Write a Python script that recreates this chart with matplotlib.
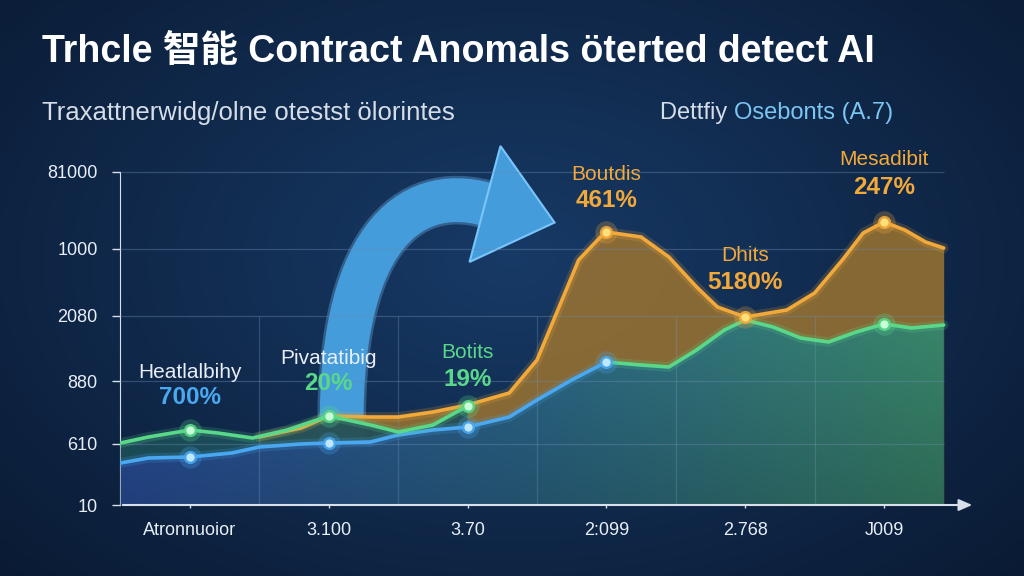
import numpy as np
import matplotlib
matplotlib.use("Agg")
import matplotlib.pyplot as plt
from matplotlib.patches import Polygon, PathPatch
from matplotlib.path import Path
from matplotlib.transforms import Affine2D

# ---------------- data ----------------
title = "Trhcle 智能 Contract Anomals öterted detect AI"
subtitle_left = "Traxattnerwidg/olne otestst ölorintes"
subtitle_right_a = "Dettfiy "
subtitle_right_b = "Osebonts (A.7)"

x_labels = ["Atronnuoior", "3.100", "3.70", "2:099", "2.768", "J009"]
y_tick_pos = [0, 61, 124, 189, 256, 333]
y_tick_labels = ["10", "610", "880", "2080", "1000", "81000"]

blue_x = [-0.5, -0.3, 0, 0.3, 0.5, 0.8, 1, 1.3, 1.5, 1.75, 2, 2.3, 2.5, 2.75, 3]
blue_y = [42, 47, 48, 52, 58, 61, 62, 63, 70, 75, 78, 88, 105, 125, 143]

green_x = [-0.5, -0.3, 0, 0.2, 0.45, 0.7, 1, 1.3, 1.5, 1.75, 2, 2.5,
           3, 3.25, 3.45, 3.65, 3.85, 4, 4.2, 4.4, 4.6, 4.8, 5, 5.2, 5.43]
green_y = [62, 68, 75, 72, 67, 75, 89, 80, 73, 80, 99, np.nan,
           143, 140, 138, 155, 175, 185, 178, 167, 163, 173, 181, 177, 180]

orange_x = [0.5, 0.8, 1, 1.3, 1.5, 1.75, 2, 2.3, 2.5, 2.65, 2.8, 2.95, 3,
            3.25, 3.45, 3.65, 3.8, 4, 4.3, 4.5, 4.7, 4.85, 5, 5.15, 5.3, 5.43]
orange_y = [68, 77, 89, 88, 88, 93, 100, 112, 145, 195, 245, 267, 273,
            268, 248, 218, 198, 188, 195, 212, 245, 272, 283, 275, 263, 257]

blue_marks = [0, 1, 2, 3]
green_marks = [0, 1, 2, 5]
orange_marks = [3, 4, 5]

ann_x = [0, 1, 2, 3, 4, 5]
ann_labels = ["Heatlalbihy", "Pivatatibig", "Botits", "Boutdis", "Dhits", "Mesadibit"]
ann_values = ["700%", "20%", "19%", "461%", "5180%", "247%"]
ann_label_y = [133, 147, 153, 330, 249, 345]
ann_value_y = [107, 121, 125, 304, 222, 317]

# ---------------- styling ----------------
BLUE = "#4aa8f0"
GREEN = "#5ad88a"
ORANGE = "#f2a93a"
TXT = "#e8eef5"
fam = ["Liberation Sans", "Noto Sans CJK SC", "DejaVu Sans"]
plt.rcParams["font.family"] = fam

W, H = 1024, 576
fig = plt.figure(figsize=(W / 100, H / 100), dpi=100)
px_tr = Affine2D().scale(1 / W, -1 / H).translate(0, 1) + fig.transFigure

# background gradient
bg = fig.add_axes([0, 0, 1, 1], zorder=-10)
yy, xx = np.mgrid[0:1:200j, 0:1:300j]
r = np.sqrt(((xx - 0.5) / 0.7) ** 2 + ((yy - 0.55) / 0.8) ** 2)
v = np.clip(1 - r, 0, 1)
c0 = np.array([0x0a, 0x1a, 0x33]) / 255
c1 = np.array([0x17, 0x3a, 0x66]) / 255
img = c0[None, None, :] + (c1 - c0)[None, None, :] * v[:, :, None]
bg.imshow(img, extent=[0, 1, 0, 1], aspect="auto", origin="lower")
bg.axis("off")

x0px, x1px = 120, 975
ypx_bottom, ypx_top = 505, 160
px_per_idx = 138.8
xlim = ((x0px - 190) / px_per_idx, (x1px - 190) / px_per_idx)
ax = fig.add_axes([x0px / W, (H - ypx_bottom) / H, (x1px - x0px) / W,
                   (ypx_bottom - ypx_top) / H])
ax.set_facecolor("none")

ox, oy = np.array(orange_x), np.array(orange_y, float)
gx, gy = np.array(green_x), np.array(green_y, float)
bx, by = np.array(blue_x), np.array(blue_y, float)
data_end = gx[-1]

# grid lines
ax.hlines(y_tick_pos[1:], xlim[0], data_end, color="#6a8ab0", lw=0.9, alpha=0.4, zorder=4)
ax.vlines([0.5, 1.5, 2.5, 3.5, 4.5], 0, 189, color="#7a9ac0", lw=0.9, alpha=0.3, zorder=4)

# big curved arrow (decoration, pixel coordinates)
P = np.array([[342, 445], [336, 238], [410, 184], [485, 204]], float)
shaft = Path(P, [Path.MOVETO, Path.CURVE4, Path.CURVE4, Path.CURVE4])
d = P[3] - P[2]
d = d / np.hypot(*d)
n = np.array([d[1], -d[0]])
tip = P[3] + d * 72
head = np.array([P[3] + n * 60, tip, P[3] - n * 60])
ARROWC = "#46a0e0"
for art in [
    PathPatch(shaft, transform=px_tr, facecolor="none", edgecolor="#7cc8ff",
              lw=35, alpha=0.3, capstyle="butt", zorder=2),
    PathPatch(shaft, transform=px_tr, facecolor="none", edgecolor=ARROWC,
              lw=31.5, alpha=0.95, capstyle="butt", zorder=2.05),
    Polygon(head, closed=True, transform=px_tr, facecolor=ARROWC, alpha=0.97,
            edgecolor="#7cc8ff", lw=1.5, joinstyle="miter", zorder=2.05),
]:
    art.set_clip_on(False)
    ax.add_artist(art)

# orange fill under orange line
ax.fill_between(ox, 0, oy, color="#9c7430", alpha=0.85, lw=0, zorder=3)
# dark teal band under green on the left
ax.fill_between(gx, 0, gy, color="#1d4f5a", alpha=0.9, lw=0, zorder=3.1)

# main gradient fill: under blue line up to x=3, then under green line
lower_x = np.concatenate([bx, gx[gx > bx[-1]]])
lower_y = np.concatenate([by, gy[gx > bx[-1]]])
verts = np.column_stack([np.concatenate([[lower_x[0]], lower_x, [lower_x[-1]]]),
                         np.concatenate([[0], lower_y, [0]])])
poly = Polygon(verts, closed=True, facecolor="none", edgecolor="none",
               transform=ax.transData)
ax.add_patch(poly)
gyy, gxx = np.mgrid[0:1:100j, 0:1:300j]
cl = np.array([0x2a, 0x50, 0x9e]) / 255
cm = np.array([0x2c, 0x68, 0x8a]) / 255
cr = np.array([0x3a, 0x88, 0x6c]) / 255
t = gxx[:, :, None]
col = np.where(t < 0.5, cl + (cm - cl) * (t / 0.5), cm + (cr - cm) * ((t - 0.5) / 0.5))
shade = 0.78 + 0.22 * gyy[:, :, None]
col = np.clip(col * shade, 0, 1)
im = ax.imshow(col, extent=[lower_x[0], lower_x[-1], 0, 200], origin="lower",
               aspect="auto", zorder=3.2, interpolation="bilinear")
im.set_clip_path(poly)
ax.set_xlim(*xlim)
ax.set_ylim(0, 345)

# lines with glow
for xs, ys, c, z in [(ox, oy, ORANGE, 6), (gx, gy, GREEN, 6.2), (bx, by, BLUE, 6.1)]:
    ax.plot(xs, ys, color=c, lw=7, alpha=0.18, solid_joinstyle="round",
            solid_capstyle="round", zorder=z)
    ax.plot(xs, ys, color=c, lw=2.6, solid_joinstyle="round",
            solid_capstyle="round", zorder=z + 0.05)

def marks(xs, ys, sel, c, inner):
    m = np.isin(xs, sel)
    ax.scatter(xs[m], ys[m], s=260, color=c, alpha=0.25, lw=0, zorder=8)
    ax.scatter(xs[m], ys[m], s=90, color=c, alpha=0.9, lw=0, zorder=8.1)
    ax.scatter(xs[m], ys[m], s=35, color=inner, lw=0, zorder=8.2)

marks(bx, by, blue_marks, BLUE, "#bfe8ff")
marks(gx, gy, green_marks, GREEN, "#c8ffd8")
marks(ox, oy, orange_marks, ORANGE, "#ffe07a")

lab_colors = [TXT, TXT, GREEN, ORANGE, ORANGE, ORANGE]
val_colors = [BLUE, GREEN, GREEN, ORANGE, ORANGE, ORANGE]
for i, xv in enumerate(ann_x):
    ax.text(xv, ann_label_y[i], ann_labels[i], color=lab_colors[i], fontsize=15,
            ha="center", va="center", zorder=10, clip_on=False)
    ax.text(xv, ann_value_y[i], ann_values[i], color=val_colors[i], fontsize=17.5,
            fontweight="bold", ha="center", va="center", zorder=10, clip_on=False)

for s in ["top", "right", "bottom"]:
    ax.spines[s].set_visible(False)
ax.spines["left"].set_color("#d8e0ea")
ax.spines["left"].set_bounds(0, 333)
ax.annotate("", xy=(xlim[1], 0), xytext=(xlim[0], 0), xycoords="data",
            arrowprops=dict(arrowstyle="-|>,head_width=0.35,head_length=0.8",
                            color="#d8e0ea", lw=1.5), annotation_clip=False, zorder=9)

ax.set_yticks(y_tick_pos)
ax.set_yticklabels(y_tick_labels)
ax.set_xticks(range(len(x_labels)))
ax.set_xticklabels(x_labels)
ax.tick_params(axis="y", colors="#d8e0ea", labelcolor=TXT, labelsize=13,
               length=6, width=1, pad=10)
ax.tick_params(axis="x", colors="#d8e0ea", labelcolor=TXT, labelsize=13,
               length=4, width=1, direction="inout", pad=10)

fig.text(42 / W, 1 - 52 / H, title, color="white", fontsize=27, fontweight="bold",
         ha="left", va="center")
fig.text(42 / W, 1 - 113 / H, subtitle_left, color="#d5dde8", fontsize=18.5,
         ha="left", va="center")
t1 = fig.text(660 / W, 1 - 113 / H, subtitle_right_a, color="#d5dde8", fontsize=17,
              ha="left", va="center")
fig.canvas.draw()
ax.annotate(subtitle_right_b, xy=(1, 0.5), xycoords=t1, color="#7cc6f2", fontsize=17,
            ha="left", va="center")

fig.savefig("out.png", dpi=100, facecolor="#0f2748")
